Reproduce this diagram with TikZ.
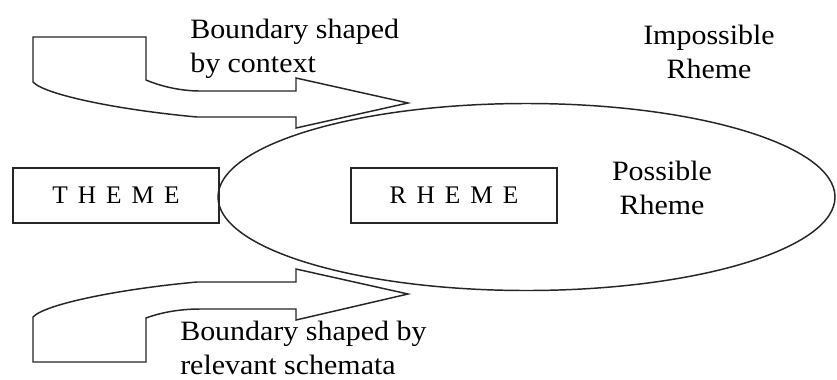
\documentclass[tikz,border=0pt]{standalone}
\usepackage{fontspec}
\setmainfont{Liberation Serif}
\newfontfamily\lblfont[FakeStretch=1.07]{Liberation Serif}
\newcommand\lsp{\hspace{7.5pt}}
\usetikzlibrary{shapes.geometric}
\tikzset{
  outline/.style={draw=black!85, line width=1.1pt, line join=miter},
  box/.style={outline, rectangle, inner sep=0pt, minimum width=154.5pt, minimum height=41.25pt, font=\fontsize{19pt}{22pt}\selectfont},
  label/.style={inner sep=0pt, font=\lblfont\fontsize{21pt}{25.5pt}\selectfont},
}
\begin{document}
\begin{tikzpicture}[x=0.75pt,y=-0.75pt]
\fill[white] (0,0) rectangle (837,379);
\useasboundingbox (0,0) rectangle (837,379);

% curved block arrows
\draw[outline] (33,37) -- (146,37) -- (146,80)
  .. controls (165,88) and (185,91) .. (200,91) -- (296,91) -- (296,78)
  -- (408,103) -- (296,128) -- (296,117) -- (197,117)
  .. controls (120,110) and (45,95) .. (33,82) -- cycle;
\draw[outline] (33,362) -- (146,362) -- (146,318)
  .. controls (165,311) and (185,309) .. (200,309) -- (296,309) -- (296,320)
  -- (408,294) -- (296,269) -- (296,282) -- (197,282)
  .. controls (120,289) and (45,304) .. (33,317) -- cycle;

% ellipse
\node[outline, ellipse, inner sep=0pt, minimum width=462.75pt, minimum height=140.25pt] (poss) at (526.5,197) {};

% boxes
\node[box] (theme) at (116,195.5) {T\lsp H\lsp E\lsp M\lsp E};
\node[box] (rheme) at (454,195.5) {R\lsp H\lsp E\lsp M\lsp E};

% labels
\node[label, align=left, anchor=north west] (ctx) at (190,19) {Boundary shaped\\by context};
\node[label, align=left, anchor=north west] (sch) at (180,321) {Boundary shaped by\\relevant schemata};
\node[label, align=center, anchor=north] (imp) at (709,25) {Impossible\\Rheme};
\node[label, align=center, anchor=north] (posr) at (662,161) {Possible\\Rheme};
\end{tikzpicture}
\end{document}
